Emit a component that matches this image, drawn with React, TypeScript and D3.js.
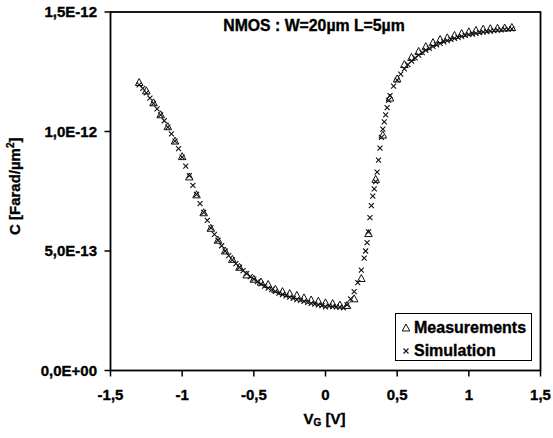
import React from "react";
import * as d3 from "d3";

const measV = [-1.3,-1.25,-1.2,-1.15,-1.1,-1.05,-1.0,-0.95,-0.9,-0.85,-0.8,-0.75,-0.7,-0.65,-0.6,-0.55,-0.5,-0.45,-0.4,-0.35,-0.3,-0.25,-0.2,-0.15,-0.1,-0.05,0.0,0.05,0.1,0.15,0.2,0.25,0.3,0.35,0.4,0.45,0.5,0.55,0.6,0.65,0.7,0.75,0.8,0.85,0.9,0.95,1.0,1.05,1.1,1.15,1.2,1.25,1.3];
const measC = [1.205,1.17,1.12,1.07,1.02,0.96,0.895,0.81,0.735,0.66,0.595,0.545,0.5,0.465,0.432,0.4,0.382,0.37,0.36,0.34,0.33,0.322,0.314,0.304,0.295,0.29,0.283,0.28,0.274,0.272,0.3,0.385,0.573,0.8,0.985,1.14,1.22,1.28,1.31,1.335,1.355,1.372,1.385,1.392,1.402,1.41,1.417,1.423,1.428,1.43,1.432,1.433,1.435];

const simV = [-1.3,-1.275,-1.25,-1.225,-1.2,-1.175,-1.15,-1.125,-1.1,-1.075,-1.05,-1.025,-1.0,-0.975,-0.95,-0.925,-0.9,-0.875,-0.85,-0.825,-0.8,-0.775,-0.75,-0.725,-0.7,-0.675,-0.65,-0.625,-0.6,-0.575,-0.55,-0.525,-0.5,-0.475,-0.45,-0.425,-0.4,-0.375,-0.35,-0.325,-0.3,-0.275,-0.25,-0.225,-0.2,-0.175,-0.15,-0.125,-0.1,-0.075,-0.05,-0.025,0.0,0.025,0.05,0.075,0.1,0.125,0.15,0.175,0.2,0.225,0.25,0.27,0.28,0.29,0.3,0.31,0.32,0.33,0.34,0.35,0.36,0.37,0.38,0.39,0.4,0.41,0.42,0.43,0.44,0.45,0.475,0.5,0.525,0.55,0.575,0.6,0.625,0.65,0.675,0.7,0.725,0.75,0.775,0.8,0.825,0.85,0.875,0.9,0.925,0.95,0.975,1.0,1.025,1.05,1.075,1.1,1.125,1.15,1.175,1.2,1.225,1.25,1.275,1.3];
const simC = [1.195,1.18,1.162,1.14,1.118,1.095,1.07,1.045,1.018,0.99,0.96,0.928,0.893,0.855,0.815,0.775,0.737,0.698,0.662,0.628,0.597,0.57,0.545,0.522,0.5,0.481,0.463,0.447,0.432,0.418,0.405,0.393,0.382,0.372,0.362,0.353,0.345,0.338,0.331,0.324,0.318,0.312,0.307,0.302,0.297,0.293,0.289,0.285,0.281,0.278,0.275,0.272,0.266,0.269,0.267,0.266,0.265,0.262,0.275,0.3,0.33,0.368,0.42,0.47,0.5,0.535,0.58,0.64,0.69,0.73,0.76,0.79,0.83,0.88,0.93,0.975,1.01,1.04,1.07,1.1,1.13,1.15,1.19,1.215,1.24,1.262,1.28,1.295,1.308,1.32,1.33,1.34,1.348,1.356,1.363,1.369,1.375,1.38,1.385,1.39,1.394,1.398,1.402,1.405,1.408,1.411,1.414,1.416,1.418,1.42,1.422,1.424,1.425,1.427,1.428,1.429];

const xTicks = [-1.5,-1,-0.5,0,0.5,1,1.5];
const xTickLabels = ["-1,5","-1","-0,5","0","0,5","1","1,5"];
const yTicks = [0,0.5,1.0,1.5];
const yTickLabels = ["0,0E+00","5,0E-13","1,0E-12","1,5E-12"];
const title = "NMOS : W=20µm L=5µm";
const seriesNames = ["Measurements","Simulation"];

const W = 553, H = 438;
const L = 110.5, R = 540.5, T = 12, B = 370.5;
const font = "'Liberation Sans', Arial, sans-serif";

export default function App() {
  const x = d3.scaleLinear().domain([-1.5, 1.5]).range([L, R]);
  const y = d3.scaleLinear().domain([0, 1.5]).range([B, T]);
  const tri = (cx: number, cy: number) => `M${cx},${cy - 4}L${cx + 3.8},${cy + 3}L${cx - 3.8},${cy + 3}Z`;
  const cross = (cx: number, cy: number) => `M${cx - 2.5},${cy - 2.5}L${cx + 2.5},${cy + 2.5}M${cx + 2.5},${cy - 2.5}L${cx - 2.5},${cy + 2.5}`;
  const txt = { stroke: "#000", strokeWidth: 0.35 };
  return (
    <svg width={W} height={H} style={{ position: "absolute", left: 0, top: 0, background: "#fff" }} fontFamily={font} fontWeight="bold">
      <rect x={0} y={0} width={W} height={H} fill="#fff" />
      <rect x={L} y={T} width={R - L} height={B - T} fill="none" stroke="#000" strokeWidth={1.8} />
      {yTicks.map((t, i) => (
        <g key={"y" + i}>
          <line x1={L - 6} x2={L} y1={y(t)} y2={y(t)} stroke="#000" strokeWidth={1.5} />
          <text x={97} y={y(t)} dy="0.36em" textAnchor="end" fontSize={15} {...txt}>{yTickLabels[i]}</text>
        </g>
      ))}
      {xTicks.map((t, i) => (
        <g key={"x" + i}>
          <line x1={x(t)} x2={x(t)} y1={B} y2={B + 6} stroke="#000" strokeWidth={1.5} />
          <text x={x(t)} y={400} textAnchor="middle" fontSize={15} {...txt}>{xTickLabels[i]}</text>
        </g>
      ))}
      <text x={x(0) - 22} y={424} fontSize={15} {...txt}>V<tspan fontSize={10} dy="2">G</tspan><tspan dy="-2"> [V]</tspan></text>
      <text transform={`translate(20,${(T + B) / 2 - 5}) rotate(-90)`} textAnchor="middle" fontSize={15} {...txt}>C [Farad/µm<tspan fontSize={10} dy="-6">2</tspan><tspan dy="6">]</tspan></text>
      <text x={314} y={31} textAnchor="middle" fontSize={15.8} {...txt}>{title}</text>
      <g>
        {simV.map((v, i) => (
          <path key={"s" + i} d={cross(x(v), y(simC[i]))} stroke="#111" strokeWidth={1.1} fill="none" />
        ))}
        {measV.map((v, i) => (
          <path key={"m" + i} d={tri(x(v), y(measC[i]))} stroke="#111" strokeWidth={1} fill="none" />
        ))}
      </g>
      <rect x={395.5} y={313.5} width={136} height={47} fill="#fff" stroke="#000" strokeWidth={1} />
      <path d={tri(406, 328)} stroke="#111" strokeWidth={1} fill="none" />
      <text x={414} y={333} fontSize={16} {...txt}>{seriesNames[0]}</text>
      <path d={cross(406, 351)} stroke="#111" strokeWidth={1.1} fill="none" />
      <text x={414} y={356} fontSize={16} {...txt}>{seriesNames[1]}</text>
    </svg>
  );
}
